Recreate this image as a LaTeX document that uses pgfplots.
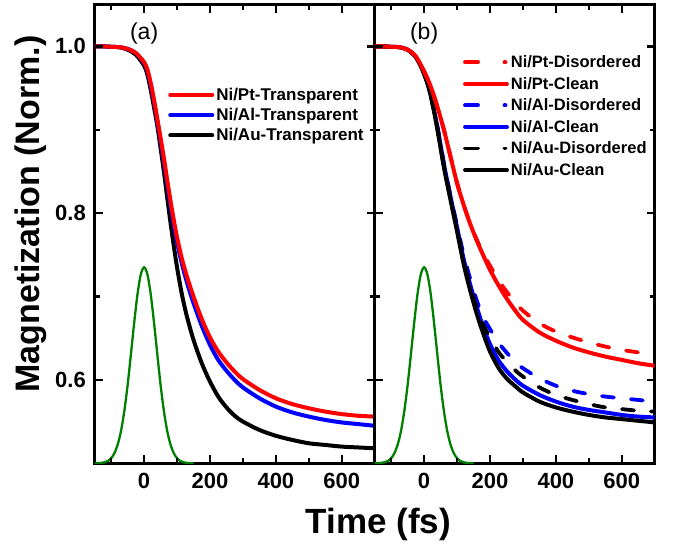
\documentclass[border=0pt]{standalone}
\usepackage{fontspec}
\setmainfont{Liberation Sans}
\usepackage{pgfplots}
\usepackage{pgfplotstable}
\pgfplotsset{compat=1.18}

\definecolor{pulsegreen}{RGB}{0,128,0}

% pump pulse (normalised, offset to the bottom of the axis)
\pgfplotstableread{
t    m
-150 0.5000
-130 0.5005
-120 0.5012
-110 0.5028
-100 0.5061
-90  0.5122
-80  0.5227
-70  0.5390
-60  0.5630
-50  0.5940
-40  0.6310
-30  0.6690
-20  0.7030
-10  0.7266
0    0.7350
10   0.7266
20   0.7030
30   0.6690
40   0.6310
50   0.5940
60   0.5630
70   0.5390
80   0.5227
90   0.5122
100  0.5061
110  0.5028
120  0.5012
130  0.5005
150  0.5000
}\pulse

% transparent interfaces
\pgfplotstableread{
t    pt     al     au
-150 1.000  1.000  1.000
-125 1.000  1.000  1.000
-100 0.9995 0.9995 0.9995
-75  0.999  0.999  0.999
-50  0.997  0.997  0.996
-25  0.992  0.992  0.990
0    0.981  0.980  0.977
10   0.972  0.971  0.966
20   0.956  0.954  0.948
30   0.936  0.934  0.927
40   0.913  0.911  0.905
50   0.890  0.887  0.878
60   0.866  0.862  0.850
70   0.840  0.836  0.819
80   0.815  0.810  0.789
90   0.792  0.786  0.761
100  0.771  0.765  0.735
115  0.745  0.739  0.702
130  0.724  0.717  0.676
150  0.700  0.692  0.648
175  0.673  0.665  0.620
200  0.651  0.642  0.598
225  0.634  0.624  0.580
250  0.621  0.611  0.567
275  0.610  0.600  0.557
300  0.601  0.591  0.550
350  0.588  0.578  0.540
400  0.578  0.568  0.533
450  0.571  0.561  0.528
500  0.566  0.556  0.524
550  0.562  0.552  0.522
600  0.559  0.549  0.520
650  0.557  0.547  0.519
700  0.556  0.545  0.518
}\transp

% disordered and clean interfaces
\pgfplotstableread{
t    ptd    ptc    ald    alc    aud    auc
-150 1.000  1.000  1.000  1.000  1.000  1.000
-125 1.000  1.000  1.000  1.000  1.000  1.000
-100 0.9995 0.9995 0.9995 0.9995 0.9995 0.9995
-75  0.999  0.999  0.999  0.999  0.999  0.999
-50  0.996  0.996  0.996  0.996  0.996  0.996
-25  0.988  0.988  0.987  0.987  0.987  0.987
0    0.970  0.970  0.968  0.968  0.967  0.967
20   0.952  0.952  0.942  0.942  0.941  0.941
40   0.928  0.928  0.904  0.904  0.902  0.901
60   0.900  0.900  0.860  0.859  0.857  0.855
80   0.868  0.868  0.821  0.820  0.818  0.816
100  0.836  0.836  0.785  0.783  0.781  0.778
120  0.810  0.810  0.750  0.745  0.744  0.739
140  0.787  0.787  0.721  0.714  0.713  0.707
160  0.768  0.767  0.695  0.687  0.686  0.679
180  0.751  0.749  0.675  0.663  0.666  0.655
200  0.737  0.732  0.661  0.643  0.651  0.634
225  0.720  0.714  0.645  0.624  0.634  0.615
250  0.706  0.698  0.633  0.611  0.622  0.602
275  0.694  0.684  0.622  0.601  0.612  0.593
300  0.683  0.672  0.614  0.593  0.604  0.585
350  0.668  0.657  0.602  0.582  0.591  0.574
400  0.658  0.647  0.593  0.574  0.582  0.567
450  0.651  0.639  0.587  0.568  0.576  0.562
500  0.645  0.633  0.583  0.564  0.571  0.558
550  0.640  0.628  0.580  0.561  0.567  0.555
600  0.636  0.624  0.578  0.558  0.565  0.553
650  0.633  0.620  0.576  0.556  0.563  0.551
700  0.630  0.617  0.574  0.555  0.562  0.549
}\interf

\pgfplotsset{
  panel/.style={
    scale only axis, width=280pt, height=458.6pt, anchor=south west,
    xmin=-150, xmax=700, ymin=0.5, ymax=1.05,
    xtick={0,200,400,600}, minor xtick={-100,100,300,500,700},
    ytick={0.6,0.8,1.0}, minor ytick={0.5,0.7,0.9},
    axis line style={line width=2.6pt},
    tick align=inside, major tick length=8pt, minor tick length=5pt,
    tick style={black, line width=2.3pt},
    tick label style={font=\fontsize{22}{24}\selectfont\bfseries},
    xticklabel style={yshift=-6pt},
    yticklabel style={xshift=-5.4pt},
    y tick label style={/pgf/number format/fixed, /pgf/number format/fixed zerofill, /pgf/number format/precision=1},
    /pgf/number format/assume math mode=true,
    legend cell align=left,
    legend image code/.code={\draw[##1, line cap=round] (0pt,0pt) -- (42pt,0pt);},
  },
  curve/.style={line width=4pt, smooth, tension=0.5},
  dcurve/.style={line width=3.8pt, smooth, tension=0.5, line cap=round, dash pattern=on 12pt off 17pt},
  pulseline/.style={pulsegreen, line width=2.3pt, smooth, forget plot},
  dashleg/.style={legend image code/.code={\draw[##1, line cap=round, dash pattern=on 13pt off 26.5pt] (0pt,0pt) -- (40.5pt,0pt);}},
}

\begin{document}
\begin{tikzpicture}
% page frame (everything below lies inside it)
\path (0pt,0pt) rectangle (677pt,542pt);

% ---------------- panel (a) ----------------
\begin{axis}[panel, at={(94.7pt,78.7pt)},
  legend style={at={(0.262,0.823)}, anchor=north west, draw=none, fill=none,
    font=\fontsize{17}{19}\selectfont\bfseries, row sep=2.4pt, inner sep=0pt}]
  \addlegendimage{red, line width=4pt}
  \addlegendentry{Ni/Pt-Transparent}
  \addlegendimage{blue, line width=4pt}
  \addlegendentry{Ni/Al-Transparent}
  \addlegendimage{black, line width=4pt}
  \addlegendentry{Ni/Au-Transparent}
  \addplot[pulseline] table[x=t, y=m] {\pulse};
  \addplot[curve, black, forget plot] table[x=t, y=au] {\transp};
  \addplot[curve, blue, forget plot] table[x=t, y=al] {\transp};
  \addplot[curve, red, forget plot] table[x=t, y=pt] {\transp};
  \node[font=\fontsize{23}{26}\selectfont] at (axis cs:0,1.015) {(a)};
\end{axis}

% ---------------- panel (b) ----------------
\begin{axis}[panel, at={(374.7pt,78.7pt)}, yticklabels={},
  legend style={at={(0.315,0.894)}, anchor=north west, draw=none, fill=none,
    font=\fontsize{16.5}{18}\selectfont\bfseries, row sep=4.1pt, inner sep=0pt}]
  \addlegendimage{red, line width=3.8pt, dashleg}
  \addlegendentry{Ni/Pt-Disordered}
  \addlegendimage{red, line width=3.8pt}
  \addlegendentry{Ni/Pt-Clean}
  \addlegendimage{blue, line width=3.8pt, dashleg}
  \addlegendentry{Ni/Al-Disordered}
  \addlegendimage{blue, line width=3.8pt}
  \addlegendentry{Ni/Al-Clean}
  \addlegendimage{black, line width=3.8pt, dashleg}
  \addlegendentry{Ni/Au-Disordered}
  \addlegendimage{black, line width=3.8pt}
  \addlegendentry{Ni/Au-Clean}
  \addplot[pulseline] table[x=t, y=m] {\pulse};
  \addplot[dcurve, blue, forget plot] table[x=t, y=ald] {\interf};
  \addplot[curve, blue, forget plot] table[x=t, y=alc] {\interf};
  \addplot[curve, black, forget plot] table[x=t, y=auc] {\interf};
  \addplot[dcurve, black, forget plot] table[x=t, y=aud] {\interf};
  \addplot[curve, red, forget plot] table[x=t, y=ptc] {\interf};
  \addplot[dcurve, red, forget plot] table[x=t, y=ptd] {\interf};
  \node[font=\fontsize{23}{26}\selectfont] at (axis cs:0,1.015) {(b)};
\end{axis}

% inward frame ticks of both panels (x: 0..600 major, odd hundreds minor; y: 0.6/0.8/1.0 major, 0.7/0.9 minor)
\begin{scope}[black, line width=2.4pt]
  \foreach \x in {144.11pt,209.99pt,275.88pt,341.76pt,424.11pt,489.99pt,555.88pt,621.76pt}{
    \draw (\x,78.7pt) -- ++(0pt,8pt);
    \draw (\x,537.3pt) -- ++(0pt,-8pt);}
  \foreach \x in {111.17pt,177.05pt,242.94pt,308.82pt,391.17pt,457.05pt,522.94pt,588.82pt}{
    \draw[line width=2.1pt] (\x,78.7pt) -- ++(0pt,5pt);
    \draw[line width=2.1pt] (\x,537.3pt) -- ++(0pt,-5pt);}
  \foreach \y in {162.08pt,328.84pt,495.6pt}{
    \draw (94.7pt,\y) -- ++(8pt,0pt);
    \draw (374.7pt,\y) -- ++(-8pt,0pt);
    \draw (374.7pt,\y) -- ++(8pt,0pt);
    \draw (654.7pt,\y) -- ++(-8pt,0pt);}
  \foreach \y in {245.46pt,412.22pt}{
    \draw[line width=2.1pt] (94.7pt,\y) -- ++(5pt,0pt);
    \draw[line width=2.1pt] (374.7pt,\y) -- ++(-5pt,0pt);
    \draw[line width=2.1pt] (374.7pt,\y) -- ++(5pt,0pt);
    \draw[line width=2.1pt] (654.7pt,\y) -- ++(-5pt,0pt);}
\end{scope}

% shared axis titles
\node[anchor=base, font=\fontsize{35}{40}\selectfont\bfseries] at (378.5pt,8.7pt) {Time (fs)};
\node[anchor=base, rotate=90, font=\fontsize{34}{38}\selectfont\bfseries] at (39.3pt,328pt) {Magnetization (Norm.)};
\end{tikzpicture}
\end{document}
